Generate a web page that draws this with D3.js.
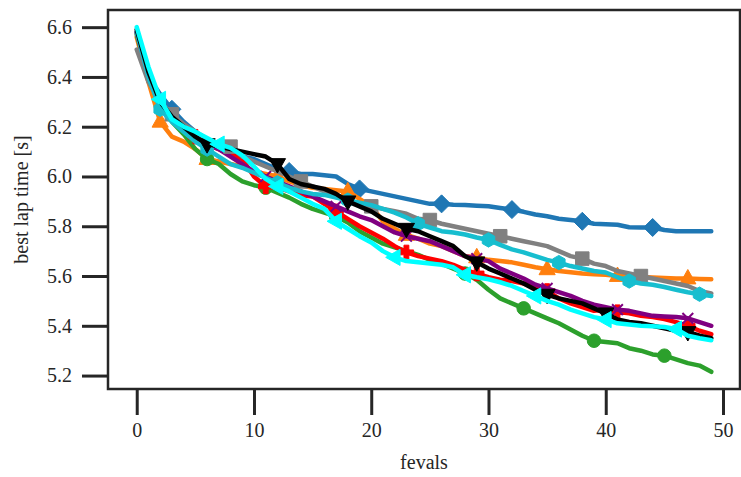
<!DOCTYPE html>
<html><head><meta charset="utf-8">
<script src="https://cdn.jsdelivr.net/npm/d3@7"></script>
<style>
body{margin:0;background:#fff}
text{font-family:"Liberation Serif","DejaVu Serif",serif;fill:#262626}
</style>
</head><body>
<svg id="chart" width="741" height="477"></svg>
<script>
// ---------- data ----------
const fevals = d3.range(0, 50);
const xTicks = [0, 10, 20, 30, 40, 50];
const yTicks = [5.2, 5.4, 5.6, 5.8, 6.0, 6.2, 6.4, 6.6];
const xLabel = "fevals";
const yLabel = "best lap time [s]";

const blueVals = [6.58,6.40,6.33,6.27,6.22,6.18,6.14,6.12,6.10,6.08,6.07,6.05,6.03,6.02,6.01,6.01,6.005,6.00,5.97,5.95,5.94,5.93,5.92,5.91,5.90,5.89,5.89,5.886,5.885,5.882,5.88,5.873,5.867,5.858,5.847,5.84,5.83,5.825,5.82,5.81,5.808,5.806,5.796,5.795,5.795,5.785,5.78,5.78,5.78,5.78];
const blueMarks = [3,13,19,26,32,38,44];

const orangeVals = [6.56,6.38,6.22,6.16,6.14,6.11,6.07,6.06,6.05,6.04,6.02,6.01,6.00,5.98,5.965,5.955,5.95,5.945,5.94,5.91,5.88,5.82,5.79,5.765,5.75,5.73,5.72,5.70,5.68,5.675,5.665,5.66,5.655,5.645,5.635,5.627,5.62,5.615,5.61,5.607,5.605,5.60,5.598,5.596,5.594,5.592,5.59,5.59,5.588,5.587];
const orangeMarks = [2,6,12,18,23,29,35,41,47];

const greenVals = [6.57,6.40,6.28,6.22,6.17,6.11,6.07,6.05,6.01,5.98,5.965,5.955,5.935,5.915,5.89,5.87,5.855,5.84,5.815,5.78,5.755,5.73,5.715,5.70,5.685,5.665,5.65,5.63,5.61,5.585,5.545,5.51,5.49,5.47,5.45,5.43,5.41,5.385,5.36,5.34,5.335,5.33,5.31,5.30,5.285,5.28,5.265,5.25,5.24,5.215];
const greenMarks = [6,11,17,28,33,39,45];

const redVals = [6.58,6.40,6.30,6.23,6.19,6.16,6.13,6.11,6.09,6.07,6.00,5.96,5.955,5.94,5.925,5.92,5.89,5.86,5.83,5.80,5.775,5.75,5.72,5.695,5.68,5.67,5.66,5.645,5.625,5.61,5.595,5.585,5.58,5.57,5.555,5.54,5.51,5.49,5.475,5.46,5.465,5.455,5.45,5.44,5.435,5.427,5.415,5.40,5.38,5.366];
const redMarks = [5,11,17,23,29,35,41,47];

const purpleVals = [6.58,6.40,6.29,6.23,6.19,6.16,6.13,6.11,6.08,6.05,6.02,6.00,5.98,5.96,5.94,5.92,5.90,5.88,5.86,5.84,5.825,5.80,5.775,5.76,5.75,5.74,5.72,5.70,5.68,5.67,5.66,5.63,5.61,5.59,5.565,5.55,5.535,5.52,5.50,5.485,5.475,5.465,5.46,5.45,5.44,5.437,5.435,5.43,5.415,5.40];
const purpleMarks = [11,17,23,29,35,41,47];

const grayVals = [6.51,6.38,6.30,6.25,6.21,6.18,6.15,6.13,6.12,6.08,6.06,6.04,6.02,6.00,5.98,5.96,5.94,5.92,5.90,5.89,5.88,5.87,5.86,5.85,5.83,5.825,5.81,5.80,5.79,5.78,5.77,5.76,5.75,5.74,5.73,5.72,5.70,5.68,5.67,5.65,5.64,5.62,5.61,5.60,5.59,5.58,5.57,5.56,5.54,5.53];
const grayMarks = [3,8,14,20,25,31,38,43];

const tealVals = [6.58,6.40,6.27,6.22,6.18,6.14,6.11,6.08,6.05,6.035,6.015,5.995,5.975,5.955,5.94,5.93,5.926,5.915,5.905,5.895,5.885,5.87,5.855,5.835,5.81,5.795,5.78,5.775,5.767,5.755,5.745,5.725,5.707,5.695,5.68,5.665,5.654,5.64,5.63,5.62,5.614,5.595,5.58,5.57,5.565,5.556,5.545,5.535,5.527,5.52];
const tealMarks = [2,6,12,18,24,30,36,42,48];

const blackVals = [6.59,6.42,6.30,6.24,6.20,6.16,6.13,6.12,6.11,6.10,6.09,6.08,6.05,5.99,5.97,5.96,5.95,5.93,5.90,5.88,5.86,5.83,5.81,5.79,5.78,5.76,5.74,5.72,5.68,5.655,5.63,5.61,5.59,5.57,5.545,5.525,5.51,5.50,5.49,5.47,5.45,5.425,5.415,5.41,5.40,5.39,5.38,5.375,5.36,5.35];
const blackMarks = [6,12,18,23,29,35,40,47];

const cyanVals = [6.60,6.44,6.31,6.23,6.20,6.18,6.155,6.13,6.115,6.085,6.04,5.99,5.96,5.94,5.915,5.89,5.87,5.82,5.79,5.76,5.735,5.70,5.675,5.66,5.655,5.65,5.645,5.635,5.605,5.595,5.587,5.575,5.56,5.54,5.52,5.50,5.485,5.465,5.45,5.435,5.425,5.41,5.405,5.40,5.398,5.395,5.387,5.36,5.35,5.342];
const cyanMarks = [2,7,12,17,22,28,34,40,46];

const series = [
  {vals: blueVals,   marks: blueMarks,   color: "#1f77b4", shape: "diamond"},
  {vals: orangeVals, marks: orangeMarks, color: "#ff7f0e", shape: "triUp"},
  {vals: greenVals,  marks: greenMarks,  color: "#2ca02c", shape: "circle"},
  {vals: redVals,    marks: redMarks,    color: "#ff0000", shape: "plusFilled"},
  {vals: purpleVals, marks: purpleMarks, color: "#800080", shape: "x"},
  {vals: grayVals,   marks: grayMarks,   color: "#808080", shape: "square"},
  {vals: tealVals,   marks: tealMarks,   color: "#17becf", shape: "hexagon"},
  {vals: blackVals,  marks: blackMarks,  color: "#000000", shape: "triDown"},
  {vals: cyanVals,   marks: cyanMarks,   color: "#00ffff", shape: "triLeft"}
];

// ---------- layout ----------
const svg = d3.select("#chart");
const L = 108, R = 740, T = 10, B = 389;
const x = d3.scaleLinear().domain([-2.45, 51.45]).range([L, R]);
const y = d3.scaleLinear().domain([5.146, 6.669]).range([B, T]);

function markerPath(shape, s) {
  const p = d3.path();
  if (shape === "diamond") {
    p.moveTo(0,-s); p.lineTo(s,0); p.lineTo(0,s); p.lineTo(-s,0); p.closePath();
  } else if (shape === "square") {
    const h = s*0.75; p.rect(-h,-h,2*h,2*h);
  } else if (shape === "circle") {
    p.arc(0,0,s*0.75,0,2*Math.PI);
  } else if (shape === "triUp" || shape === "triDown" || shape === "triLeft") {
    const pts = [[0,-s],[s*0.9,s*0.6],[-s*0.9,s*0.6]];
    const rot = shape === "triUp" ? 0 : shape === "triDown" ? Math.PI : -Math.PI/2;
    pts.forEach((q,i) => {
      const px = q[0]*Math.cos(rot) - q[1]*Math.sin(rot);
      const py = q[0]*Math.sin(rot) + q[1]*Math.cos(rot);
      if (i === 0) p.moveTo(px,py); else p.lineTo(px,py);
    });
    p.closePath();
  } else if (shape === "hexagon") {
    for (let i = 0; i < 6; i++) {
      const a = i*Math.PI/3 - Math.PI/2;
      const px = s*0.8*Math.cos(a), py = s*0.8*Math.sin(a);
      if (i === 0) p.moveTo(px,py); else p.lineTo(px,py);
    }
    p.closePath();
  } else if (shape === "plusFilled") {
    const a = s*0.8, b = s*0.27;
    p.moveTo(-b,-a); p.lineTo(b,-a); p.lineTo(b,-b); p.lineTo(a,-b); p.lineTo(a,b);
    p.lineTo(b,b); p.lineTo(b,a); p.lineTo(-b,a); p.lineTo(-b,b); p.lineTo(-a,b);
    p.lineTo(-a,-b); p.lineTo(-b,-b); p.closePath();
  } else if (shape === "x") {
    const a = s*0.6;
    p.moveTo(-a,-a); p.lineTo(a,a); p.moveTo(-a,a); p.lineTo(a,-a);
  }
  return p.toString();
}

const line = d3.line().x((d,i) => x(fevals[i])).y(d => y(d));

const plot = svg.append("g");
series.forEach(s => {
  const g = plot.append("g");
  g.append("path").datum(s.vals)
    .attr("d", line)
    .attr("fill", "none")
    .attr("stroke", s.color)
    .attr("stroke-width", 4.5)
    .attr("stroke-linejoin", "round")
    .attr("stroke-linecap", "round");
  g.selectAll("path.m").data(s.marks).enter().append("path")
    .attr("class", "m")
    .attr("transform", i => `translate(${x(fevals[i])},${y(s.vals[i])})`)
    .attr("d", markerPath(s.shape, 9))
    .attr("fill", s.shape === "x" ? "none" : s.color)
    .attr("stroke", s.color)
    .attr("stroke-width", s.shape === "x" ? 2 : 1);
});

// ---------- axes ----------
const xAxis = d3.axisBottom(x).tickValues(xTicks).tickSize(26).tickPadding(8).tickFormat(d3.format("d"));
const yAxis = d3.axisLeft(y).tickValues(yTicks).tickSize(26).tickPadding(10).tickFormat(d3.format(".1f"));

const gx = svg.append("g").attr("transform", `translate(0,${B})`).call(xAxis);
const gy = svg.append("g").attr("transform", `translate(${L},0)`).call(yAxis);
[gx, gy].forEach(g => {
  g.attr("font-family", null);
  g.select(".domain").remove();
  g.selectAll(".tick line").attr("stroke", "#262626").attr("stroke-width", 3);
  g.selectAll(".tick text").attr("font-size", 20).attr("fill", "#262626")
    .style("font-family", '"Liberation Serif","DejaVu Serif",serif');
});

svg.append("rect").attr("x", L).attr("y", T).attr("width", R - L).attr("height", B - T)
  .attr("fill", "none").attr("stroke", "#262626").attr("stroke-width", 2.5);

svg.append("text").attr("x", (L + R) / 2).attr("y", 469).attr("text-anchor", "middle")
  .attr("font-size", 20).text(xLabel);
svg.append("text").attr("transform", `translate(28,${(T + B) / 2}) rotate(-90)`)
  .attr("text-anchor", "middle").attr("font-size", 20).text(yLabel);
</script>
</body></html>
